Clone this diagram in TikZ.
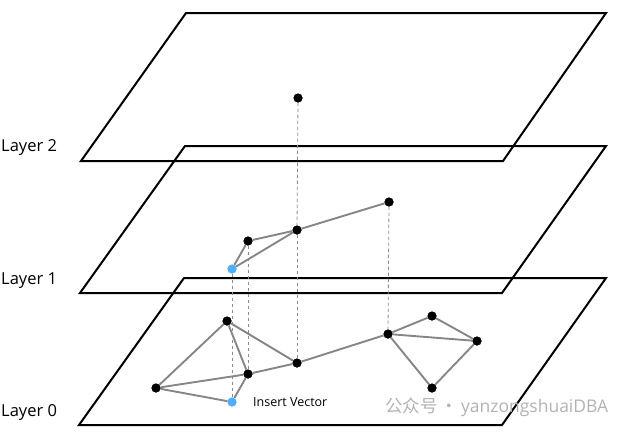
\documentclass[tikz,border=0pt]{standalone}
\usepackage{fontspec}
\setmainfont{Open Sans}
\newfontfamily\cjkfont{Noto Sans CJK SC}
\begin{document}
\begin{tikzpicture}[x=1pt,y=-1pt,
  plane/.style={draw=black,line width=2pt,line join=miter},
  edge/.style={draw=gray!95,line width=1.9pt},
  vdash/.style={draw=gray!90,line width=0.8pt,dash pattern=on 3.5pt off 2.5pt},
  dot/.style={circle,fill=black,inner sep=0pt,minimum size=9pt},
  bdot/.style={circle,fill=blue!45!cyan!70!white,inner sep=0pt,minimum size=9pt},
  lbl/.style={font=\fontsize{16.5}{18}\selectfont,anchor=west,inner sep=0pt}]
\useasboundingbox (0,0) rectangle (631,432);
% planes
\draw[plane] (186,13) -- (606,13) -- (503,161) -- (81,161) -- cycle;
\draw[plane] (185,146) -- (606,146) -- (502,293) -- (80,293) -- cycle;
\draw[plane] (184,278) -- (606,278) -- (502,425) -- (79,425) -- cycle;
% labels
\node[lbl] (l2) at (1,148) {Layer 2};
\node[lbl] (l1) at (1,281) {Layer 1};
\node[lbl] (l0) at (1,412) {Layer 0};
% nodes layer 2
\node[dot] (t) at (298,98) {};
% layer 1
\node[dot] (a1) at (389,202) {};
\node[dot] (b1) at (297,230) {};
\node[dot] (c1) at (248,241) {};
\node[bdot] (d1) at (232,269) {};
% layer 0
\node[dot] (n1) at (227,321) {};
\node[dot] (n2) at (248,374) {};
\node[dot] (n3) at (297,363) {};
\node[dot] (n4) at (156,388) {};
\node[bdot] (q) at (232,402) {};
\node[dot] (n5) at (388,334) {};
\node[dot] (n6) at (432,316) {};
\node[dot] (n7) at (477,341) {};
\node[dot] (n8) at (432,388) {};
% dashed verticals
\draw[vdash] (t) -- (b1);
\draw[vdash] (b1) -- (n3);
\draw[vdash] (a1) -- (n5);
\draw[vdash] (c1) -- (n2);
\draw[vdash] (d1) -- (q);
% edges layer 1
\draw[edge] (a1) -- (b1) -- (c1) -- (d1) -- (b1);
% edges layer 0
\draw[edge] (n4) -- (n1) -- (n2) -- (n3) -- (n1);
\draw[edge] (n4) -- (n2);
\draw[edge] (n4) -- (q) -- (n2);
\draw[edge] (n3) -- (n5);
\draw[edge] (n5) -- (n6) -- (n7) -- (n5);
\draw[edge] (n5) -- (n8) -- (n7);
% redraw dots on top
\foreach \n in {t,a1,b1,c1,n1,n2,n3,n4,n5,n6,n7,n8} \fill[black] (\n) circle (4.5pt);
\foreach \n in {d1,q} \fill[blue!45!cyan!70!white] (\n) circle (4.5pt);
% texts
\node[anchor=west,inner sep=0pt,font=\fontsize{12.5}{14}\selectfont] (iv) at (253,402) {Insert Vector};
\node[anchor=west,inner sep=0pt,text=gray!60,font=\fontsize{17.5}{19}\selectfont] (wm) at (385,407) {{\cjkfont 公众号\,·\,}yanzongshuaiDBA};
\end{tikzpicture}
\end{document}
